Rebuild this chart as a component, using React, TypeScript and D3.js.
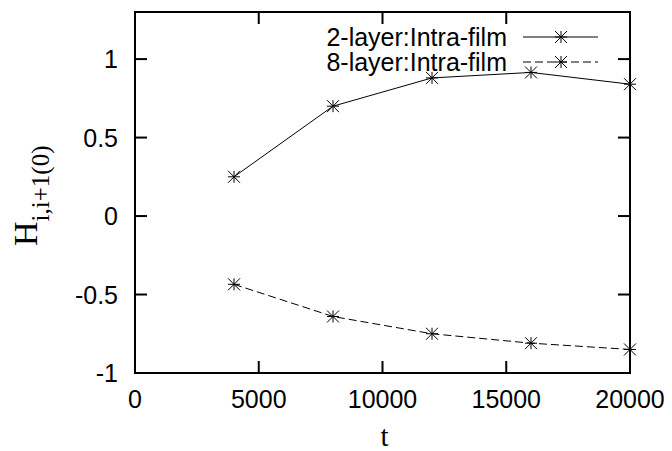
import React, { useEffect, useRef } from 'react';
import * as d3 from 'd3';

// t values and H_{i,i+1(0)} for both films
const tValues = [4000, 8000, 12000, 16000, 20000];
const twoLayer = [0.25, 0.70, 0.88, 0.915, 0.84];
const eightLayer = [-0.435, -0.64, -0.75, -0.81, -0.85];
const xTicks = [0, 5000, 10000, 15000, 20000];
const yTicks = [-1, -0.5, 0, 0.5, 1];
const seriesNames = ['2-layer:Intra-film', '8-layer:Intra-film'];

const App = () => {
  const svgRef = useRef<SVGSVGElement | null>(null);

  useEffect(() => {
    const svg = d3.select(svgRef.current);
    svg.selectAll('*').remove();

    const left = 135, right = 630, top = 12, bottom = 373;
    const x = d3.scaleLinear().domain([0, 20000]).range([left, right]);
    const y = d3.scaleLinear().domain([-1, 1.3]).range([bottom, top]);
    const tickFont = 'Liberation Sans, Arial, sans-serif';
    const tickLen = 12;

    // frame
    svg.append('rect')
      .attr('x', left).attr('y', top)
      .attr('width', right - left).attr('height', bottom - top)
      .attr('fill', 'none').attr('stroke', '#000').attr('stroke-width', 2);

    // x ticks, mirrored on top
    xTicks.forEach(v => {
      svg.append('line').attr('x1', x(v)).attr('x2', x(v))
        .attr('y1', bottom).attr('y2', bottom - tickLen)
        .attr('stroke', '#000').attr('stroke-width', 2);
      svg.append('line').attr('x1', x(v)).attr('x2', x(v))
        .attr('y1', top).attr('y2', top + tickLen)
        .attr('stroke', '#000').attr('stroke-width', 2);
      svg.append('text').attr('x', x(v)).attr('y', 408)
        .attr('text-anchor', 'middle')
        .style('font-family', tickFont).style('font-size', '25px')
        .text(v);
    });

    // y ticks, mirrored on right
    yTicks.forEach(v => {
      svg.append('line').attr('x1', left).attr('x2', left + tickLen)
        .attr('y1', y(v)).attr('y2', y(v))
        .attr('stroke', '#000').attr('stroke-width', 2);
      svg.append('line').attr('x1', right).attr('x2', right - tickLen)
        .attr('y1', y(v)).attr('y2', y(v))
        .attr('stroke', '#000').attr('stroke-width', 2);
      svg.append('text').attr('x', 118).attr('y', y(v) + 9)
        .attr('text-anchor', 'end')
        .style('font-family', tickFont).style('font-size', '25px')
        .text(v);
    });

    // axis titles
    svg.append('text').attr('x', (left + right) / 2 + 2).attr('y', 446)
      .attr('text-anchor', 'middle')
      .style('font-family', 'Liberation Serif, Times New Roman, serif')
      .style('font-size', '29px')
      .text('t');

    const yl = svg.append('text')
      .attr('transform', 'translate(37,246) rotate(-90)')
      .style('font-family', 'Liberation Serif, Times New Roman, serif')
      .style('font-size', '34px');
    yl.append('tspan').text('H');
    yl.append('tspan').attr('dy', 12).style('font-size', '25px').text('i,i+1(0)');

    const line = d3.line<number>()
      .x((_, i) => x(tValues[i]))
      .y(d => y(d));

    const star = (g: any, cx: number, cy: number) => {
      const r = 6;
      const p = `M${cx - r},${cy}L${cx + r},${cy}M${cx},${cy - r}L${cx},${cy + r}` +
        `M${cx - r},${cy - r}L${cx + r},${cy + r}M${cx - r},${cy + r}L${cx + r},${cy - r}`;
      g.append('path').attr('d', p).attr('stroke', '#000').attr('stroke-width', 1).attr('fill', 'none');
    };

    const series = [
      { values: twoLayer, dash: null },
      { values: eightLayer, dash: '8,4' },
    ];

    series.forEach((s, k) => {
      const g = svg.append('g');
      g.append('path').datum(s.values)
        .attr('d', line)
        .attr('fill', 'none').attr('stroke', '#000').attr('stroke-width', 1)
        .attr('stroke-dasharray', s.dash);
      s.values.forEach((v, i) => star(g, x(tValues[i]), y(v)));

      // legend
      const ly = 37 + k * 25;
      svg.append('text').attr('x', 507).attr('y', ly + 9)
        .attr('text-anchor', 'end')
        .style('font-family', tickFont).style('font-size', '25px')
        .text(seriesNames[k]);
      svg.append('line').attr('x1', 523).attr('x2', 598)
        .attr('y1', ly).attr('y2', ly)
        .attr('stroke', '#000').attr('stroke-width', 1)
        .attr('stroke-dasharray', s.dash);
      star(svg, 561, ly);
    });
  }, []);

  return (
    <svg ref={svgRef} width={672} height={451}
      style={{ position: 'absolute', left: 0, top: 0, background: '#fff' }} />
  );
};

export default App;
